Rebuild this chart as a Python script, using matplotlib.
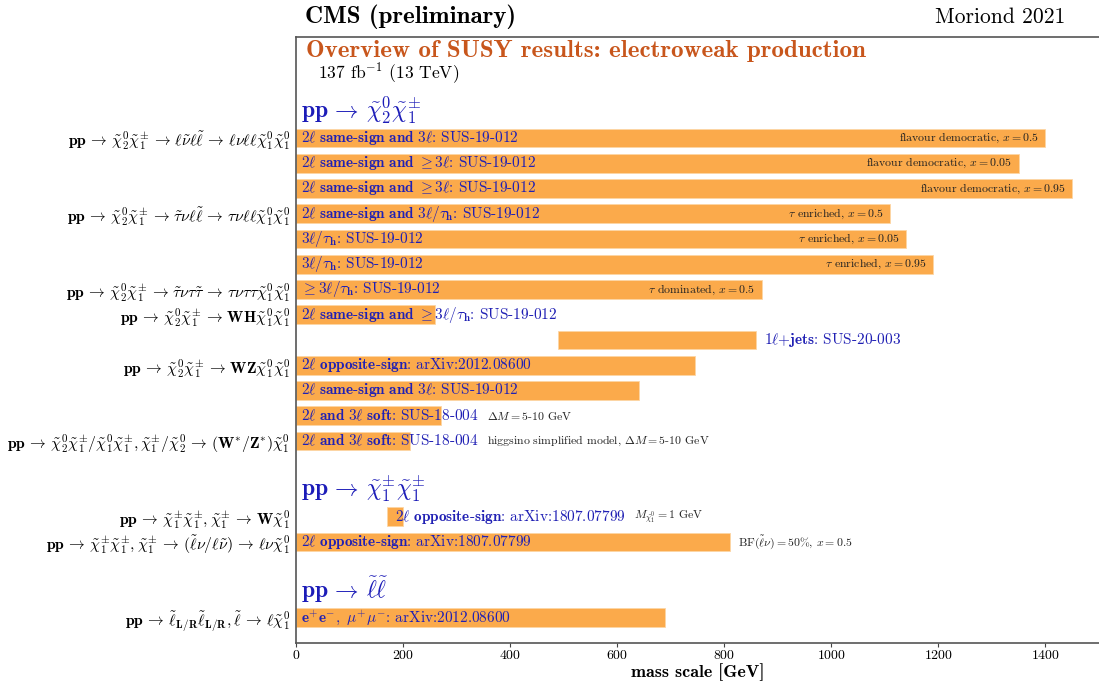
import matplotlib
matplotlib.use("Agg")
import matplotlib.pyplot as plt

plt.rcParams["font.family"] = ["cmr10", "DejaVu Serif"]
plt.rcParams["mathtext.fontset"] = "cm"
plt.rcParams["axes.formatter.use_mathtext"] = True

# ── LaTeX snippets for the sparticles ────────────────────────────────────────
N1 = r"\tilde{\chi}^{\mathbf{0}}_{\mathbf{1}}"
N2 = r"\tilde{\chi}^{\mathbf{0}}_{\mathbf{2}}"
C1 = r"\tilde{\chi}^{\pm}_{\mathbf{1}}"
PP = r"\mathbf{pp}\,\rightarrow\,"
AR = r"\,\rightarrow\,"
TH = r"\tau_{\mathbf{h}}"

# ── Data ─────────────────────────────────────────────────────────────────────
row_pos = [4, 5, 6, 7, 8, 9, 10, 11, 12, 13, 14, 15, 16, 19, 20, 23]

bar_lo = [0, 0, 0, 0, 0, 0, 0, 0, 490, 0, 0, 0, 0, 170, 0, 0]
bar_hi = [1400, 1350, 1450, 1110, 1140, 1190, 870, 260, 860, 745, 640, 270, 213,
          200, 810, 690]

analysis = [
    r"$\mathbf{2\ell\ same}$-$\mathbf{sign\ and\ 3\ell}$:",
    r"$\mathbf{2\ell\ same}$-$\mathbf{sign\ and}\ \geq \mathbf{3\ell}$:",
    r"$\mathbf{2\ell\ same}$-$\mathbf{sign\ and}\ \geq \mathbf{3\ell}$:",
    rf"$\mathbf{{2\ell\ same}}$-$\mathbf{{sign\ and\ 3}}\ell/{TH}$:",
    rf"$\mathbf{{3}}\ell/{TH}$:",
    rf"$\mathbf{{3}}\ell/{TH}$:",
    rf"$\geq \mathbf{{3}}\ell/{TH}$:",
    rf"$\mathbf{{2\ell\ same}}$-$\mathbf{{sign\ and}}\ \geq \mathbf{{3}}\ell/{TH}$:",
    r"$\mathbf{1\ell{+}jets}$:",
    r"$\mathbf{2\ell\ opposite}$-$\mathbf{sign}$:",
    r"$\mathbf{2\ell\ same}$-$\mathbf{sign\ and\ 3\ell}$:",
    r"$\mathbf{2\ell\ and\ 3\ell\ soft}$:",
    r"$\mathbf{2\ell\ and\ 3\ell\ soft}$:",
    r"$\mathbf{2\ell\ opposite}$-$\mathbf{sign}$:",
    r"$\mathbf{2\ell\ opposite}$-$\mathbf{sign}$:",
    r"$\mathbf{e^{+}e^{-},}\ \mu^{+}\mu^{-}$:",
]

reference = ["SUS-19-012"] * 8 + ["SUS-20-003", "arXiv:2012.08600", "SUS-19-012",
             "SUS-18-004", "SUS-18-004", "arXiv:1807.07799", "arXiv:1807.07799",
             "arXiv:2012.08600"]

notes = [
    r"flavour democratic, $x = 0.5$",
    r"flavour democratic, $x = 0.05$",
    r"flavour democratic, $x = 0.95$",
    r"$\tau$ enriched, $x = 0.5$",
    r"$\tau$ enriched, $x = 0.05$",
    r"$\tau$ enriched, $x = 0.95$",
    r"$\tau$ dominated, $x = 0.5$",
    "", "", "", "",
    r"$\Delta M = 5$-$10$ GeV",
    r"higgsino simplified model, $\Delta M = 5$-$10$ GeV",
    r"$M_{\tilde{\chi}^{0}_{1}} = 1$ GeV",
    r"BF$(\tilde{\ell}\nu) = 50\%$, $x = 0.5$",
    "",
]
# where the note goes: inside the bar end, after the label, or after the bar
note_mode = ["in"] * 7 + [""] * 4 + ["text", "text", "text", "bar", ""]
label_mode = ["in"] * 8 + ["after"] + ["in"] * 4 + ["start", "in", "in"]

model_pos = [4, 7, 10, 11, 13, 16, 19, 20, 23]
model_labels = [
    rf"${PP}{N2}{C1}{AR}\ell\tilde{{\nu}}\ell\tilde{{\ell}}{AR}\ell\nu\ell\ell{N1}{N1}$",
    rf"${PP}{N2}{C1}{AR}\tilde{{\tau}}\nu\ell\tilde{{\ell}}{AR}\tau\nu\ell\ell{N1}{N1}$",
    rf"${PP}{N2}{C1}{AR}\tilde{{\tau}}\nu\tau\tilde{{\tau}}{AR}\tau\nu\tau\tau{N1}{N1}$",
    rf"${PP}{N2}{C1}{AR}\mathbf{{WH}}{N1}{N1}$",
    rf"${PP}{N2}{C1}{AR}\mathbf{{WZ}}{N1}{N1}$",
    rf"${PP}{N2}{C1}/{N1}{C1}, {C1}/{N2}{AR}(\mathbf{{W}}^{{*}}/\mathbf{{Z}}^{{*}}){N1}$",
    rf"${PP}{C1}{C1}, {C1}{AR}\mathbf{{W}}{N1}$",
    rf"${PP}{C1}{C1}, {C1}{AR}(\tilde{{\ell}}\nu/\ell\tilde{{\nu}}){AR}\ell\nu{N1}$",
    rf"${PP}\tilde{{\ell}}_{{\mathbf{{L/R}}}}\tilde{{\ell}}_{{\mathbf{{L/R}}}}, \tilde{{\ell}}{AR}\ell{N1}$",
]

section_pos = [3, 18, 22]
section_labels = [
    rf"${PP}{N2}{C1}$",
    rf"${PP}{C1}{C1}$",
    rf"${PP}\tilde{{\ell}}\tilde{{\ell}}$",
]

BAR = "#fbaa4b"
BLUE = "#2020b4"
HEAD = "#1c1cb8"

fig = plt.figure(figsize=(10.99, 6.81), dpi=100)
ax = fig.add_axes([0.2693, 0.0558, 0.7307, 0.8899])

widths = [h - l for l, h in zip(bar_lo, bar_hi)]
ax.barh(row_pos, widths, left=bar_lo, height=0.75, color=BAR,
        edgecolor="#fdd6a4", linewidth=0.6)

for y, lo, hi, lab, ref, note, nm, lm in zip(row_pos, bar_lo, bar_hi, analysis,
                                              reference, notes, note_mode, label_mode):
    if lm == "after":
        x = hi + 15
    elif lm == "start":
        x = lo + 15
    else:
        x = 10
    t = ax.text(x, y, lab + " " + ref, color=BLUE, fontsize=11, va="center", ha="left")
    if nm == "in":
        ax.text(hi - 12, y, note, fontsize=8.5, va="center", ha="right", color="#222222")
    elif nm == "text":
        ax.annotate(note, xy=(1, 0.5), xycoords=t, xytext=(6, 0),
                    textcoords="offset points", fontsize=8.5, va="center", color="#222222")
    elif nm == "bar":
        ax.text(hi + 15, y, note, fontsize=8.5, va="center", ha="left", color="#222222")

for y, s in zip(section_pos, section_labels):
    ax.text(10, y - 0.1, s, color=HEAD, fontsize=17, va="center", ha="left")

ax.text(18, 0.55, "Overview of SUSY results: electroweak production",
        family="cmb10", color="#c8561c", fontsize=18, va="center", ha="left")
ax.text(42, 1.45, r"137 fb$^{-1}$ (13 TeV)", fontsize=12.6, va="center", ha="left")

fig.text(305 / 1099, 1 - 17 / 681, "CMS (preliminary)", family="cmb10",
         fontsize=18, va="center", ha="left")
fig.text(1065 / 1099, 1 - 17 / 681, "Moriond 2021", fontsize=15.5,
         va="center", ha="right")

ax.set_xlim(0, 1500)
ax.set_ylim(24, 0)
ax.set_yticks(model_pos)
ax.set_yticklabels(model_labels, fontsize=11.4)
ax.tick_params(axis="y", length=0, pad=4)
ax.set_xticks(range(0, 1401, 200))
ax.tick_params(axis="x", labelsize=10, length=3, pad=1, color="#444444")
ax.set_xlabel("mass scale [GeV]", family="cmb10", fontsize=13)
ax.xaxis.set_label_coords(0.5, -0.033)
ax.spines["right"].set_visible(False)
for side in ("left", "top", "bottom"):
    ax.spines[side].set_color("#555555")
    ax.spines[side].set_linewidth(1.2)

fig.savefig("out.png", dpi=100)
